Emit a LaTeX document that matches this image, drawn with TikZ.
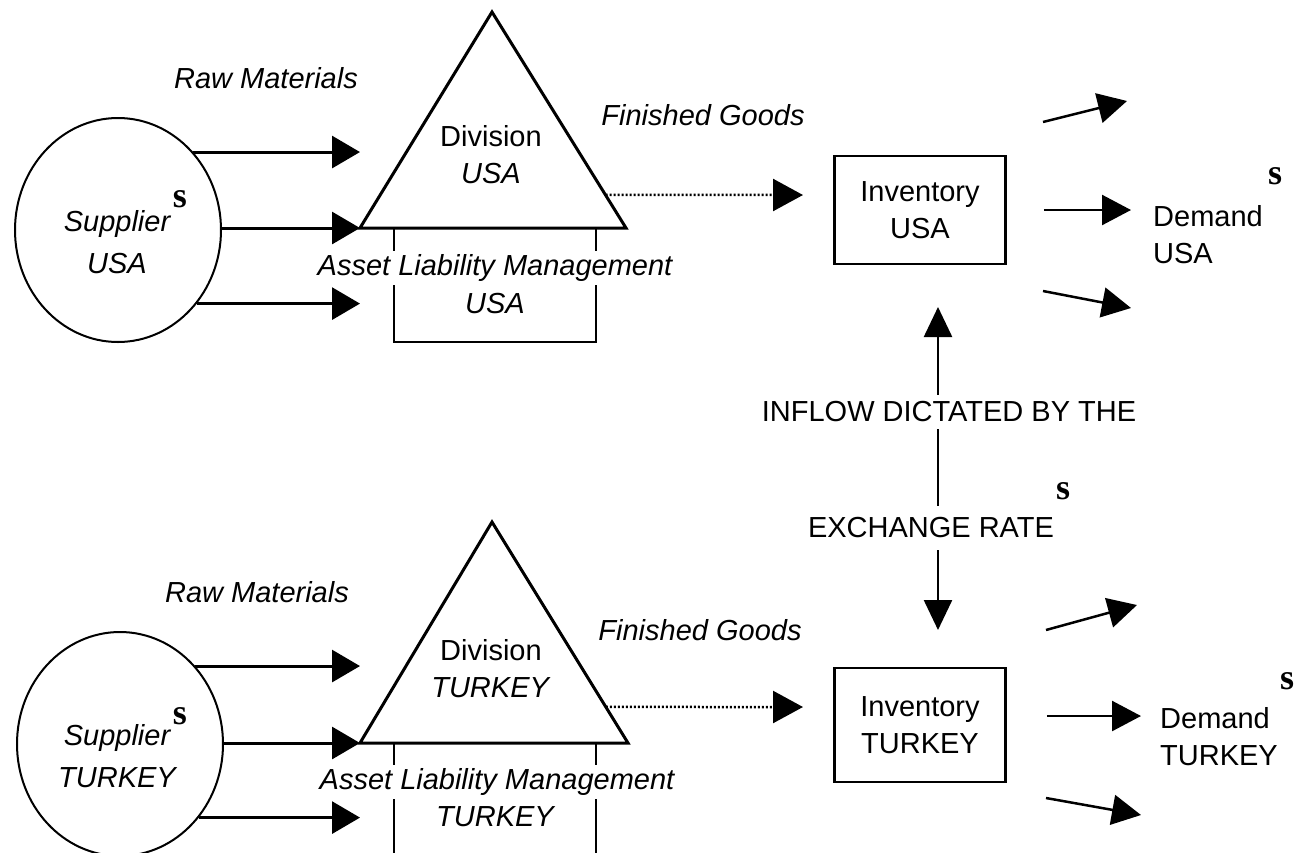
\documentclass[tikz,border=0pt]{standalone}
\usepackage{fontspec}
\setmainfont{Liberation Sans}
\newfontfamily\serifS{Liberation Serif}
\usetikzlibrary{arrows.meta,calc,shapes.geometric}
\definecolor{LineClr}{rgb}{0,0,0}

\tikzset{
  lbl/.style={font=\fontsize{29}{37}\selectfont,inner sep=2pt,align=center,text=LineClr},
  itl/.style={lbl,font=\fontsize{29}{37}\selectfont\itshape},
  supS/.style={font=\fontsize{36}{36}\selectfont\serifS\bfseries,inner sep=0pt},
  supplier/.style={draw=LineClr,ellipse,line width=2pt,minimum width=206pt,minimum height=224pt,inner sep=0pt},
  invbox/.style={lbl,draw=LineClr,line width=2.5pt,minimum width=171pt},
  rawarr/.style={line width=3pt,-{Triangle[length=28pt,width=32pt]}},
  outarr/.style={line width=2.5pt,-{Triangle[length=29pt,width=30pt]}},
  dotarr/.style={line width=2.5pt,dash pattern=on 2pt off 2pt,-{Triangle[length=30pt,width=32pt]}},
  vertarr/.style={line width=2.5pt,-{Triangle[length=30pt,width=28pt]}}
}

\begin{document}
\begin{tikzpicture}[x=1pt,y=-1pt]
\useasboundingbox (0,0) rectangle (1296,852);
\clip (0,0) rectangle (1296,852);

\coordinate (triLa) at (360,228);
\coordinate (triTa) at (492,12);
\coordinate (triRa) at (626,228);
\coordinate (triLb) at (360,743);
\coordinate (triTb) at (492,522);
\coordinate (triRb) at (628,743);

\coordinate (dotUSA) at (803,195);
\coordinate (dotTR) at (803,707);
\coordinate (upTip) at (938,307);
\coordinate (downTip) at (938,630);

\coordinate (fanUSAa) at (1043,122);
\coordinate (fanUSAat) at (1127,101);
\coordinate (fanUSAc) at (1043,291);
\coordinate (fanUSAct) at (1131,308);
\coordinate (fanTRa) at (1046,630);
\coordinate (fanTRat) at (1137,605);
\coordinate (fanTRc) at (1046,798);
\coordinate (fanTRct) at (1141,815);

\node[supplier] (supUSA) at (118,230) {};
\node[supplier] (supTR) at (120,744) {};
\node[itl,font=\fontsize{29}{42}\selectfont\itshape] (supUSAtxt) at (117,242) {Supplier\\USA};
\node[itl,font=\fontsize{29}{42}\selectfont\itshape] (supTRtxt) at (117,756) {Supplier\\TURKEY};
\node[supS] (sSupUSA) at (180,199) {s};
\node[supS] (sSupTR) at (180,716) {s};

\node[itl] (rawUSA) at (266,78) {Raw Materials};
\node[itl] (rawTR) at (257,592) {Raw Materials};

\draw[rawarr] (supUSA.46) -- (supUSA.46 -| triLa);
\draw[rawarr] (supUSA.east |- triLa) -- (triLa);
\draw[rawarr] (supUSA.-43) -- (supUSA.-43 -| triLa);
\draw[rawarr] (supTR.46) -- (supTR.46 -| triLb);
\draw[rawarr] (supTR.east |- triLb) -- (triLb);
\draw[rawarr] (supTR.-43) -- (supTR.-43 -| triLb);

\draw[line width=2.5pt,LineClr] (394,228) -- (394,342) -- (596,342) -- (596,228);
\draw[line width=2.5pt,LineClr] (394,743) -- (394,860) -- (596,860) -- (596,743);
\draw[line width=3pt,LineClr,line join=miter] (triLa) -- (triTa) -- (triRa) -- cycle;
\draw[line width=3pt,LineClr,line join=miter] (triLb) -- (triTb) -- (triRb) -- cycle;

\node[lbl] (divUSA) at (491,155) {Division\\\textit{USA}};
\node[lbl] (divTR) at (491,669) {Division\\\textit{TURKEY}};
\node[itl,fill=white,inner sep=3pt] (almUSA) at (495,268) {Asset Liability Management};
\node[itl] (almUSAc) at (495,304) {USA};
\node[itl,fill=white,inner sep=3pt] (almTR) at (497,782) {Asset Liability Management};
\node[itl] (almTRc) at (495,817) {TURKEY};

\node[itl] (finUSA) at (703,115) {Finished Goods};
\node[itl] (finTR) at (700,630) {Finished Goods};
\draw[dotarr] ($(triTa)!0.847!(triRa)$) -- (dotUSA);
\draw[dotarr] ($(triTb)!0.837!(triRb)$) -- (dotTR);

\node[invbox,minimum height=108pt] (invUSA) at (920,210) {Inventory\\USA};
\node[invbox,minimum height=114pt] (invTR) at (920,725) {Inventory\\TURKEY};

\node[lbl,inner sep=7pt] (inflow) at (949,412) {INFLOW DICTATED BY THE};
\node[lbl,inner sep=12pt] (exch) at (931,528) {EXCHANGE RATE};
\node[supS] (sExch) at (1063,491) {s};
\draw[vertarr] (inflow.north -| upTip) -- (upTip);
\draw[line width=2.5pt,LineClr] (inflow.south -| upTip) -- (exch.north -| upTip);
\draw[vertarr] (exch.south -| downTip) -- (downTip);

\node[lbl,align=left,anchor=west] (demUSA) at (1151,235) {Demand\\USA};
\node[lbl,align=left,anchor=west] (demTR) at (1158,737) {Demand\\TURKEY};
\node[supS] (sDemUSA) at (1275,176) {s};
\node[supS] (sDemTR) at (1287,681) {s};

\draw[outarr] (fanUSAa) -- (fanUSAat);
\draw[outarr,shorten <=37pt] (invUSA.east) -- (invUSA.east -| 1131,0);
\draw[outarr] (fanUSAc) -- (fanUSAct);
\draw[outarr] (fanTRa) -- (fanTRat);
\draw[outarr,shorten <=40pt] (invTR.east |- 0,716) -- (1141,716);
\draw[outarr] (fanTRc) -- (fanTRct);

\end{tikzpicture}
\end{document}
